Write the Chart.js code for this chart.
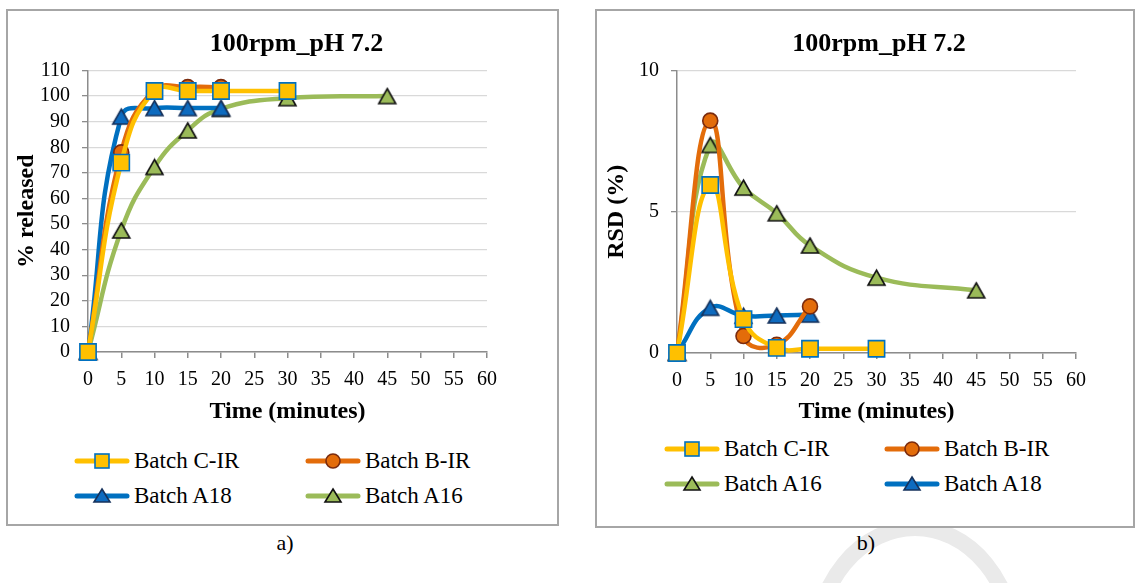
<!DOCTYPE html>
<html>
<head>
<meta charset="utf-8">
<script src="https://cdn.jsdelivr.net/npm/chart.js@4.4.1/dist/chart.umd.min.js"></script>
<style>
  body { margin: 0; background: #fff; width: 1135px; height: 583px; overflow: hidden; position: relative;
         font-family: "Liberation Serif", "DejaVu Serif", "Times New Roman", serif; color: #000; }
  .panel { position: absolute; border: 2px solid #a6a6a6; box-sizing: border-box; background: #fff; }
  .plot { position: absolute; left: 0; top: 0; height: 420px; }
  .legend-item { position: absolute; height: 26px; display: flex; align-items: center; font-size: 23px; white-space: nowrap; }
  .legend-item svg { flex: none; margin-right: 4px; }
  .caption { position: absolute; width: 40px; text-align: center; font-size: 22px; line-height: 26px; }
  #mark { position: absolute; left: 0; top: 0; }
</style>
</head>
<body>

<svg id="mark" width="1135" height="583">
  <ellipse cx="915" cy="650" rx="100" ry="122" fill="none" stroke="#eaeaea" stroke-width="16"/>
</svg>

<div class="panel" id="panelA" style="left:6px; top:9px; width:553px; height:517px;">
  <div class="plot" style="width:549px;"><canvas id="chartA"></canvas></div>
  <div id="legendA"></div>
</div>

<div class="panel" id="panelB" style="left:595px; top:9px; width:540px; height:519px;">
  <div class="plot" style="width:536px;"><canvas id="chartB"></canvas></div>
  <div id="legendB"></div>
</div>

<div class="caption" style="left:265px; top:530px;">a)</div>
<div class="caption" style="left:846px; top:530px;">b)</div>

<script>
// sampling times (minutes) for each batch
const timeCIR = [0, 5, 10, 15, 20, 30];
const timeBIR = [0, 5, 10, 15, 20];
const timeA18 = [0, 5, 10, 15, 20];
const timeA16 = [0, 5, 10, 15, 20, 30, 45];

// a) % released
const releaseCIR = [0, 74, 102, 102, 102, 102];
const releaseBIR = [0, 78, 102.3, 103.5, 103.5];
const releaseA18 = [0, 92, 95.3, 95.3, 95.3];
const releaseA16 = [0, 47.5, 72.3, 86.6, 95, 99.2, 100];

// b) RSD (%)
const rsdCIR = [0, 5.95, 1.2, 0.18, 0.15, 0.15];
const rsdBIR = [0, 8.23, 0.6, 0.29, 1.65];
const rsdA16 = [0, 7.37, 5.86, 4.95, 3.81, 2.67, 2.22];
const rsdA18 = [0, 1.6, 1.32, 1.33, 1.36];

const chartTitle = '100rpm_pH 7.2';
const xTitle = 'Time (minutes)';

const SERIF = '"Liberation Serif", "DejaVu Serif", "Times New Roman", serif';
const AXIS = '#8c8c8c';
const GRID = '#d9d9d9';

const styles = {
  'Batch C-IR': { line: '#FFC000', fill: '#FFC000', border: '#0070C0', shape: 'rect', r: 11.5 },
  'Batch B-IR': { line: '#E36C0A', fill: '#E36C0A', border: '#7A2B0E', shape: 'circle', r: 7.5 },
  'Batch A18':  { line: '#0070C0', fill: '#0E6BBF', border: '#16325C', shape: 'triangle', r: 10 },
  'Batch A16':  { line: '#9BBB59', fill: '#9BBB59', border: '#111111', shape: 'triangle', r: 10 }
};

// Excel-like triangle: centred on its bounding box, not on its centroid
function triangleMarker(fill, border) {
  const w = 17, h = 15, pad = 2;
  const c = document.createElement('canvas');
  c.width = w + pad * 2; c.height = h + pad * 2;
  const ctx = c.getContext('2d');
  ctx.beginPath();
  ctx.moveTo(pad + w / 2, pad);
  ctx.lineTo(pad + w, pad + h);
  ctx.lineTo(pad, pad + h);
  ctx.closePath();
  ctx.fillStyle = fill; ctx.fill();
  ctx.lineWidth = 1.6; ctx.strokeStyle = border; ctx.stroke();
  return c;
}

function series(label, xs, ys) {
  const s = styles[label];
  return {
    label: label,
    data: xs.map((x, i) => ({ x: x, y: ys[i] })),
    borderColor: s.line,
    borderWidth: 4.5,
    tension: 0.45,
    fill: false,
    clip: false,
    pointStyle: s.shape === 'triangle' ? triangleMarker(s.fill, s.border) : s.shape,
    pointRadius: s.r,
    pointBackgroundColor: s.fill,
    pointBorderColor: s.border,
    pointBorderWidth: 1.6
  };
}

// the chart title sits a little right of the plot centre in the original
const titleShift = {
  id: 'titleShift',
  afterLayout(chart, args, opts) {
    const t = chart.titleBlock;
    if (t) { t.left += opts.dx; t.right += opts.dx; }
  }
};

function makeChart(id, datasets, yMax, yStep, yTitle, layout) {
  const tickFont = { family: SERIF, size: 20 };
  const titleFont = { family: SERIF, size: 24, weight: 'bold' };
  return new Chart(document.getElementById(id), {
    type: 'line',
    data: { datasets: datasets },
    plugins: [titleShift],
    options: {
      responsive: true,
      maintainAspectRatio: false,
      animation: false,
      devicePixelRatio: 1,
      layout: { padding: { left: 0, right: layout.right, top: 0, bottom: 0 } },
      plugins: {
        legend: { display: false },
        tooltip: { enabled: false },
        titleShift: { dx: layout.titleDx },
        title: {
          display: true, text: chartTitle, fullSize: false, color: '#000',
          font: { family: SERIF, size: 26, weight: 'bold' },
          padding: { top: 18, bottom: layout.titleGap }
        }
      },
      scales: {
        x: {
          type: 'linear', min: 0, max: 60,
          ticks: { stepSize: 5, font: tickFont, color: '#000', padding: 10, maxRotation: 0, autoSkip: false },
          grid: { drawOnChartArea: false, tickLength: 6, tickColor: AXIS, lineWidth: 1.5 },
          border: { color: AXIS, width: 1.5 },
          title: { display: true, text: xTitle, font: titleFont, color: '#000', padding: { top: 4, bottom: 4.6 } },
          afterFit: s => { s.height = layout.xHeight; }
        },
        y: {
          min: 0, max: yMax,
          ticks: { stepSize: yStep, font: tickFont, color: '#000', padding: 12, autoSkip: false },
          grid: { color: GRID, tickColor: AXIS, tickLength: 6, lineWidth: 1.3 },
          border: { color: AXIS, width: 1.5 },
          title: { display: true, text: yTitle, font: titleFont, color: '#000', padding: { top: layout.yTitlePad, bottom: 0 } },
          afterFit: s => { s.width = 80; }
        }
      }
    }
  });
}

function swatch(label) {
  const s = styles[label];
  const c = 28, m = 13;
  let marker;
  if (s.shape === 'rect') {
    marker = `<rect x="${c - 7}" y="${m - 7}" width="14" height="14" fill="${s.fill}" stroke="${s.border}" stroke-width="1.6"/>`;
  } else if (s.shape === 'circle') {
    marker = `<circle cx="${c}" cy="${m}" r="7" fill="${s.fill}" stroke="${s.border}" stroke-width="1.6"/>`;
  } else {
    marker = `<polygon points="${c},${m - 7} ${c + 8},${m + 6} ${c - 8},${m + 6}" fill="${s.fill}" stroke="${s.border}" stroke-width="1.6"/>`;
  }
  return `<svg width="56" height="26"><line x1="3" y1="${m}" x2="53" y2="${m}" stroke="${s.line}" stroke-width="5" stroke-linecap="round"/>${marker}</svg>`;
}

function buildLegend(id, labels, cols, rows) {
  const box = document.getElementById(id);
  box.innerHTML = labels.map((label, i) => {
    const left = cols[i % 2], top = rows[Math.floor(i / 2)] - 13;
    return `<div class="legend-item" style="left:${left}px; top:${top}px;">${swatch(label)}<span>${label}</span></div>`;
  }).join('');
}

makeChart('chartA', [
  series('Batch C-IR', timeCIR, releaseCIR),
  series('Batch B-IR', timeBIR, releaseBIR),
  series('Batch A18', timeA18, releaseA18),
  series('Batch A16', timeA16, releaseA16)
], 110, 10, '% released', { right: 70, xHeight: 79, titleGap: 10.3, yTitlePad: 4.6, titleDx: 9 });

makeChart('chartB', [
  series('Batch C-IR', timeCIR, rsdCIR),
  series('Batch B-IR', timeBIR, rsdBIR),
  series('Batch A16', timeA16, rsdA16),
  series('Batch A18', timeA18, rsdA18)
], 10, 5, 'RSD (%)', { right: 57, xHeight: 78, titleGap: 10.5, yTitlePad: 5.6, titleDx: 2.5 });

buildLegend('legendA', ['Batch C-IR', 'Batch B-IR', 'Batch A18', 'Batch A16'], [66, 297], [450, 485]);
buildLegend('legendB', ['Batch C-IR', 'Batch B-IR', 'Batch A16', 'Batch A18'], [67, 287], [438, 473]);
</script>
</body>
</html>
